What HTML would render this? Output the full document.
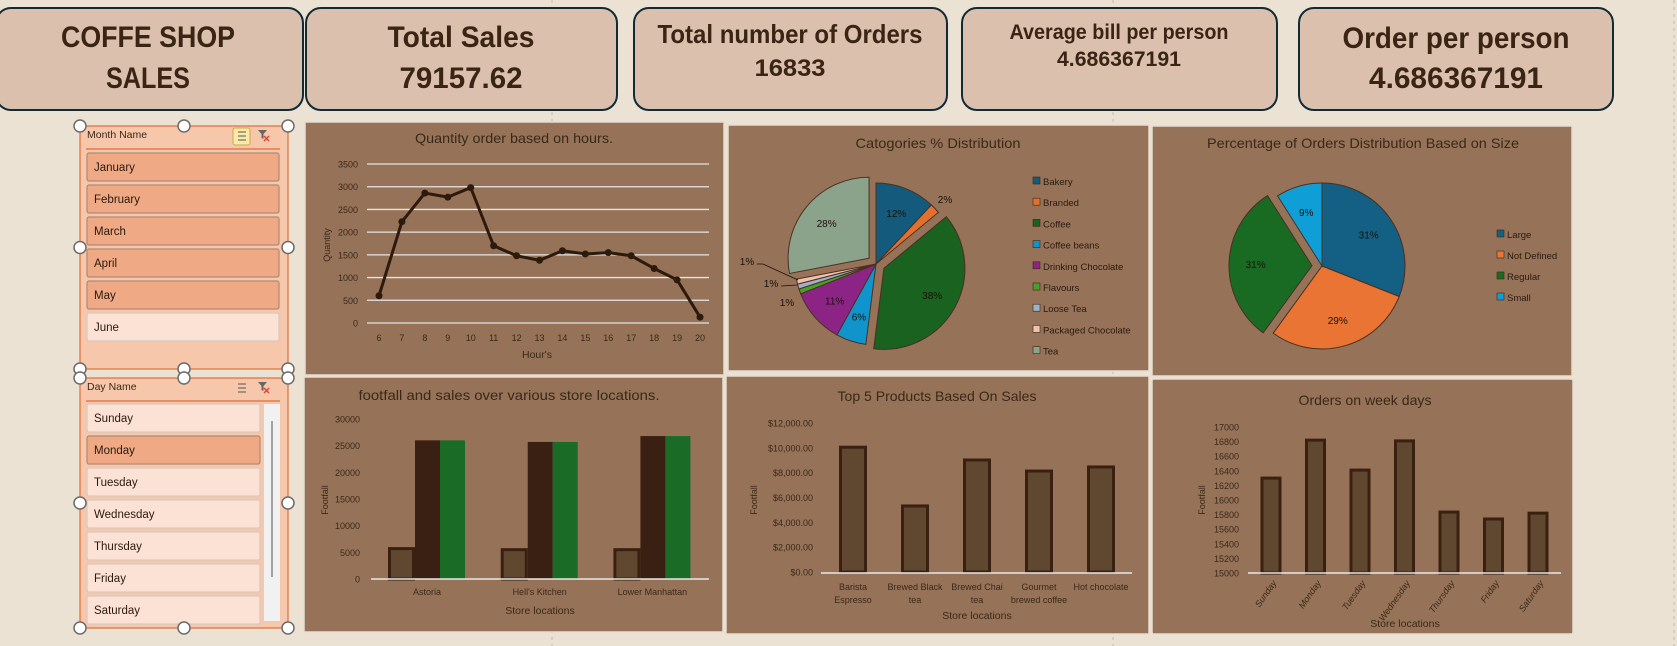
<!DOCTYPE html>
<html><head><meta charset="utf-8">
<style>
html,body{margin:0;padding:0;width:1677px;height:646px;overflow:hidden;background:#ece2d4;}
svg{display:block;font-family:"Liberation Sans Narrow","Liberation Sans",sans-serif;}
</style></head>
<body>
<svg id="root" width="1677" height="646" viewBox="0 0 1677 646" xmlns="http://www.w3.org/2000/svg">
<rect x="0" y="0" width="1677" height="646" fill="#ece2d4"/>
<line x1="552" y1="0" x2="552" y2="646" stroke="#b8b0a6" stroke-dasharray="3,4" stroke-width="0.8"/>
<line x1="1113" y1="0" x2="1113" y2="646" stroke="#b8b0a6" stroke-dasharray="3,4" stroke-width="0.8"/>
<line x1="1674" y1="0" x2="1674" y2="646" stroke="#b8b0a6" stroke-dasharray="3,4" stroke-width="0.8"/>

<!-- KPI cards -->
<g font-weight="bold" fill="#3a2414" text-anchor="middle">
<g>
<rect x="-4" y="8" width="307" height="102" rx="15" fill="#dbc1ad" stroke="#102a38" stroke-width="2"/>
<text x="148" y="47" font-size="30" textLength="174" lengthAdjust="spacingAndGlyphs">COFFE SHOP</text>
<text x="148" y="88" font-size="30" textLength="84" lengthAdjust="spacingAndGlyphs">SALES</text>
</g>
<g>
<rect x="306" y="8" width="311" height="102" rx="15" fill="#dbc1ad" stroke="#102a38" stroke-width="2"/>
<text x="461" y="47" font-size="30" textLength="147" lengthAdjust="spacingAndGlyphs">Total Sales</text>
<text x="461" y="88" font-size="30" textLength="123" lengthAdjust="spacingAndGlyphs">79157.62</text>
</g>
<g>
<rect x="634" y="8" width="313" height="102" rx="15" fill="#dbc1ad" stroke="#102a38" stroke-width="2"/>
<text x="790" y="43" font-size="26" textLength="265" lengthAdjust="spacingAndGlyphs">Total number of Orders</text>
<text x="790" y="76" font-size="24" textLength="71" lengthAdjust="spacingAndGlyphs">16833</text>
</g>
<g>
<rect x="962" y="8" width="315" height="102" rx="15" fill="#dbc1ad" stroke="#102a38" stroke-width="2"/>
<text x="1119" y="39" font-size="21" textLength="219" lengthAdjust="spacingAndGlyphs">Average bill per person</text>
<text x="1119" y="66" font-size="21" textLength="124" lengthAdjust="spacingAndGlyphs">4.686367191</text>
</g>
<g>
<rect x="1299" y="8" width="314" height="102" rx="15" fill="#dbc1ad" stroke="#102a38" stroke-width="2"/>
<text x="1456" y="48" font-size="30" textLength="227" lengthAdjust="spacingAndGlyphs">Order per person</text>
<text x="1456" y="88" font-size="30" textLength="174" lengthAdjust="spacingAndGlyphs">4.686367191</text>
</g>
</g>

<!-- Panels -->
<rect x="305" y="122" width="419" height="253" fill="#967358" stroke="#e6ddd2" stroke-width="1.5"/>
<rect x="728" y="125" width="421" height="246" fill="#967358" stroke="#e6ddd2" stroke-width="1.5"/>
<rect x="1152" y="126" width="420" height="250" fill="#967358" stroke="#e6ddd2" stroke-width="1.5"/>
<rect x="304" y="377" width="419" height="255" fill="#967358" stroke="#e6ddd2" stroke-width="1.5"/>
<rect x="726" y="376" width="423" height="258" fill="#967358" stroke="#e6ddd2" stroke-width="1.5"/>
<rect x="1152" y="379" width="421" height="255" rx="2" fill="#967358" stroke="#e6ddd2" stroke-width="1.5"/>

<g id="charts" font-size="10"></g>
<g id="slicers"></g>
</svg>

<script>
// ---------- data ----------
const hours = [6,7,8,9,10,11,12,13,14,15,16,17,18,19,20];
const hourQty = [600,2230,2860,2770,2980,1700,1480,1380,1590,1520,1550,1480,1200,950,130];
const hourTicks = [0,500,1000,1500,2000,2500,3000,3500];

const categories = ["Bakery","Branded","Coffee","Coffee beans","Drinking Chocolate","Flavours","Loose Tea","Packaged Chocolate","Tea"];
const categoryPct = [12,2,38,6,11,1,1,1,28];
const categoryColors = ["#145a7c","#e2702f","#19621f","#0f95cc","#8c2486","#4a9e2a","#9fb1c8","#f1c1ae","#8ba38b"];

const sizes = ["Large","Not Defined","Regular","Small"];
const sizePct = [31,29,31,9];
const sizeColors = ["#145f84","#e97433","#196b24","#0f9ed5"];

const stores = ["Astoria","Hell's Kitchen","Lower Manhattan"];
const storeFootfall = [5700,5500,5500];
const storeSales = [26000,25700,26800];
const storeSales2 = [26000,25700,26800];
const storeTicks = [0,5000,10000,15000,20000,25000,30000];

const products = [["Barista","Espresso"],["Brewed Black","tea"],["Brewed Chai","tea"],["Gourmet","brewed coffee"],["Hot chocolate"]];
const productSales = [10050,5320,9020,8130,8460];
const productTicks = [0,2000,4000,6000,8000,10000,12000];

const weekdays = ["Sunday","Monday","Tuesday","Wednesday","Thursday","Friday","Saturday"];
const weekdayOrders = [16300,16820,16410,16810,15835,15740,15820];
const weekdayTicks = [15000,15200,15400,15600,15800,16000,16200,16400,16600,16800,17000];

const months = ["January","February","March","April","May","June"];
const monthSelected = [true,true,true,true,true,false];
const days = ["Sunday","Monday","Tuesday","Wednesday","Thursday","Friday","Saturday"];
const daySelected = [false,true,false,false,false,false,false];

const NS = "http://www.w3.org/2000/svg";
const charts = document.getElementById('charts');
function mk(tag, attrs, parent){const e=document.createElementNS(NS,tag);for(const k in attrs)e.setAttribute(k,attrs[k]);(parent||charts).appendChild(e);return e;}
function txt(s, attrs, parent){const e=mk('text',attrs,parent);e.textContent=s;return e;}
const TXT="#3a2818";
function title(g,s,x,y,w){return txt(s,{x:x,y:y,'font-size':14,'text-anchor':'middle',fill:TXT,textLength:w,lengthAdjust:'spacingAndGlyphs'},g);}

// ---------- line chart ----------
(function(){
  const g=mk('g',{});
  
  
  const x=h=>379+(h-6)*(700-379)/14;
  const y=v=>323-v*159/3500;
  let t=title(g,"Quantity order based on hours.",514,143,198);
  
  
  hourTicks.forEach(v=>{
    const l=mk('line',{x1:367,x2:709,y1:y(v),y2:y(v),stroke:'#e4e4e4','stroke-width':1.3},g);
    
    
    const tl=txt(v,{x:358,y:y(v)+3.5,'text-anchor':'end',fill:TXT,'font-size':9},g);
    
    
  });
  hours.forEach(h=>{
    const tl=txt(h,{x:x(h),y:341,'text-anchor':'middle',fill:TXT,'font-size':9},g);
    
    
  });
  t=txt("Hour's",{x:537,y:358,'text-anchor':'middle',fill:TXT,'font-size':10.5},g);
  
  
  t=txt("Quantity",{x:0,y:0,'text-anchor':'middle',fill:TXT,'font-size':9,transform:'translate(330,245) rotate(-90)'},g);
  
  
  const pts=hours.map((h,i)=>x(h)+','+y(hourQty[i])).join(' ');
  const pl=mk('polyline',{points:pts,fill:'none',stroke:'#2d1a0c','stroke-width':3,'stroke-linejoin':'round'},g);
  
  
  hours.forEach((h,i)=>{
    const c=mk('circle',{cx:x(h),cy:y(hourQty[i]),r:3.5,fill:'#2d1a0c'},g);
    
    
  });
})();

// ---------- pie helper ----------
function pie(g,cx,cy,r,vals,colors,explode,names){
  let a=0;const tot=vals.reduce((s,v)=>s+v,0);
  vals.forEach((v,i)=>{
    const a0=a/tot*2*Math.PI, a1=(a+v)/tot*2*Math.PI; a+=v;
    const am=(a0+a1)/2, off=explode[i]||0;
    const ox=cx+off*Math.sin(am), oy=cy-off*Math.cos(am);
    const p0=[ox+r*Math.sin(a0),oy-r*Math.cos(a0)], p1=[ox+r*Math.sin(a1),oy-r*Math.cos(a1)];
    const large=(a1-a0)>Math.PI?1:0;
    const p=mk('path',{d:`M${ox},${oy} L${p0[0]},${p0[1]} A${r},${r} 0 ${large} 1 ${p1[0]},${p1[1]} Z`,fill:colors[i],stroke:'#4a3020','stroke-width':1},g);
    
    
    if(v>=3){
      const lr=r*0.68;
      const t=txt(v+'%',{x:ox+lr*Math.sin(am),y:oy-lr*Math.cos(am)+4,'text-anchor':'middle',fill:'#1a1008','font-size':10},g);
      
      
    }
  });
}
function legend(g,x,y0,step,names,colors){
  names.forEach((n,i)=>{
    const r=mk('rect',{x:x,y:y0+i*step-8,width:7,height:7,fill:colors[i],stroke:'#3a2818','stroke-width':0.6},g);
    
    
    const t=txt(n,{x:x+10,y:y0+i*step,fill:'#2a1a0e','font-size':9.5},g);
    
    
  });
}

// ---------- category pie ----------
(function(){
  const g=mk('g',{});
  
  
  let t=title(g,"Catogories % Distribution",938,148,165);
  
  
  pie(g,876,264,81,categoryPct,categoryColors,[0,0,9,0,0,0,0,0,9],categories);
  const outs=[["2%",945,203],["1%",747,265],["1%",771,287],["1%",787,306]];
  outs.forEach(o=>{
    const e=txt(o[0],{x:o[1],y:o[2],'text-anchor':'middle',fill:'#1a1008','font-size':10},g);
    
    
  });
  let l=mk('polyline',{points:'757,264 763,264 798,280',fill:'none',stroke:'#1a1008','stroke-width':0.8},g);
  
  
  l=mk('polyline',{points:'781,286 797,285',fill:'none',stroke:'#1a1008','stroke-width':0.8},g);
  
  
  legend(g,1033,185,21.2,categories,categoryColors);
})();

// ---------- size pie ----------
(function(){
  const g=mk('g',{});
  
  
  let t=title(g,"Percentage  of Orders Distribution Based on Size",1363,148,312);
  
  
  pie(g,1322,266,83,sizePct,sizeColors,[0,0,10,0],sizes);
  legend(g,1497,238,21,sizes,sizeColors);
})();

// ---------- bar helpers ----------
function axisBase(g,x1,x2,y){
  const l=mk('line',{x1:x1,x2:x2,y1:y,y2:y,stroke:'#e8e8e8','stroke-width':1.5},g);
  
  
}
function yTicks(g,ticks,yf,xr,fmt){
  ticks.forEach(v=>{
    const t=txt(fmt?fmt(v):v,{x:xr,y:yf(v)+3.5,'text-anchor':'end',fill:TXT,'font-size':9},g);
    
    
  });
}
function bar(g,x,w,y0,y1,fill,stroke,name){
  const r=mk('rect',{x:x,y:Math.min(y0,y1),width:w,height:Math.abs(y0-y1),fill:fill,stroke:stroke||'none','stroke-width':stroke?3:0},g);
  
  
}

// ---------- store bar ----------
(function(){
  const g=mk('g',{});
  
  
  const y=v=>579-v*160/30000;
  let t=title(g,"footfall  and sales over various store  locations.",509,400,301);
  
  
  yTicks(g,storeTicks,y,360);
  const cx=i=>427+i*112.7;
  stores.forEach((s,i)=>{
    bar(g,cx(i)-37.5,24,y(0),y(storeFootfall[i]),'#604830','#3a2010','bar-footfall');
    bar(g,cx(i)-12,25,y(0),y(storeSales[i]),'#3a2012',null,'bar-sales');
    bar(g,cx(i)+13,25,y(0),y(storeSales2[i]),'#1a6b26',null,'bar-sales-2');
    const tl=txt(s,{x:cx(i),y:595,'text-anchor':'middle',fill:TXT,'font-size':9},g);
    
    
  });
  axisBase(g,371,709,579);
  t=txt("Store locations",{x:540,y:614,'text-anchor':'middle',fill:TXT,'font-size':10.5},g);
  
  
  t=txt("Footfall",{x:0,y:0,'text-anchor':'middle',fill:TXT,'font-size':9,transform:'translate(328,500) rotate(-90)'},g);
  
  
})();

// ---------- products bar ----------
(function(){
  const g=mk('g',{});
  
  
  const y=v=>572-v*149/12000;
  let t=title(g,"Top 5 Products Based On Sales",937,401,199);
  
  
  yTicks(g,productTicks,y,813,v=>'$'+v.toLocaleString('en-US')+'.00');
  const cx=i=>853+i*62;
  products.forEach((p,i)=>{
    bar(g,cx(i)-12.5,25,y(0),y(productSales[i]),'#604830','#3a2010','bar-product');
    p.forEach((line,j)=>{
      const tl=txt(line,{x:cx(i),y:590+j*13,'text-anchor':'middle',fill:TXT,'font-size':9},g);
      
      
    });
  });
  axisBase(g,821,1132,573);
  t=txt("Store locations",{x:977,y:619,'text-anchor':'middle',fill:TXT,'font-size':10.5},g);
  
  
  t=txt("Footfall",{x:0,y:0,'text-anchor':'middle',fill:TXT,'font-size':9,transform:'translate(757,500) rotate(-90)'},g);
  
  
})();

// ---------- weekday bar ----------
(function(){
  const g=mk('g',{});
  
  
  const y=v=>573-(v-15000)*146/2000;
  let t=title(g,"Orders on week days",1365,405,133);
  
  
  yTicks(g,weekdayTicks,y,1239);
  const cx=i=>1271+i*44.5;
  weekdays.forEach((d,i)=>{
    bar(g,cx(i)-9,18,y(15000),y(weekdayOrders[i]),'#604830','#3a2010','bar-weekday');
    const tl=txt(d,{x:0,y:0,'text-anchor':'end',fill:TXT,'font-size':9,'font-style':'italic',transform:`translate(${cx(i)+6},583) rotate(-55)`},g);
    
    
  });
  axisBase(g,1248,1561,573);
  t=txt("Store locations",{x:1405,y:627,'text-anchor':'middle',fill:TXT,'font-size':10.5},g);
  
  
  t=txt("Footfall",{x:0,y:0,'text-anchor':'middle',fill:TXT,'font-size':9,transform:'translate(1205,500) rotate(-90)'},g);
  
  
})();

// ---------- slicers ----------
const sl=document.getElementById('slicers');
function handles(g,x1,y1,x2,y2){
  const xm=(x1+x2)/2, ym=(y1+y2)/2;
  [[x1,y1],[xm,y1],[x2,y1],[x1,ym],[x2,ym],[x1,y2],[xm,y2],[x2,y2]].forEach(p=>{
    const c=mk('circle',{cx:p[0],cy:p[1],r:6,fill:'#fff',stroke:'#6a6a6a','stroke-width':1.5},g);
    
    
  });
}
function slicer(name,titleText,items,sel,x1,y1,x2,y2,itemW,itemY0,scroll,hlIcon){
  const g=mk('g',{},sl);
  
  
  mk('rect',{x:x1,y:y1,width:x2-x1,height:y2-y1,fill:'#f6c7ab',stroke:'#d9703a','stroke-width':1.2},g);
  const h=txt(titleText,{x:x1+7,y:y1+12,fill:'#3a2818','font-size':10.5},g);
  
  
  mk('line',{x1:x1+6,x2:x2-8,y1:y1+23,y2:y1+23,stroke:'#d9703a','stroke-width':1.2},g);
  const ib=mk('rect',{x:x2-55,y:y1+2,width:17,height:17,rx:2,fill:hlIcon?'#fbe9a8':'none',stroke:hlIcon?'#c9a94a':'none'},g);
  
  
  for(let k=0;k<3;k++){mk('line',{x1:x2-50,x2:x2-42,y1:y1+6+k*4,y2:y1+6+k*4,stroke:'#555','stroke-width':1},g);}
  const f=mk('path',{d:`M${x2-30},${y1+4} h9 l-3.5,4 v5 l-2,-1 v-4 z`,fill:'#666'},g);
  
  
  mk('path',{d:`M${x2-24},${y1+10} l5,5 M${x2-19},${y1+10} l-5,5`,stroke:'#e0402a','stroke-width':1.3},g);
  items.forEach((it,i)=>{
    const y=itemY0+i*32;
    const r=mk('rect',{x:x1+7,y:y,width:itemW,height:28,rx:2,fill:sel[i]?'#efa984':'#fbe2d5',stroke:sel[i]?'#b08a78':'#d8c8c0','stroke-width':1.2},g);
    
    
    const t=txt(it,{x:x1+14,y:y+18,fill:'#2a1a0e','font-size':11.5},g);
    
    
  });
  if(scroll){
    const s=mk('rect',{x:x2-24,y:itemY0,width:16,height:y2-itemY0-7,fill:'#f1f1f1'},g);
    
    
    mk('line',{x1:x2-16,x2:x2-16,y1:itemY0+17,y2:itemY0+173,stroke:'#888','stroke-width':1.5},g);
  }
  handles(g,x1,y1,x2,y2);
}
slicer('month-slicer','Month Name',months,monthSelected,80,126,288,369,192,153,false,true);
slicer('day-slicer','Day Name',days,daySelected,80,378,288,628,173,404,true,false);
</script>
</body></html>
